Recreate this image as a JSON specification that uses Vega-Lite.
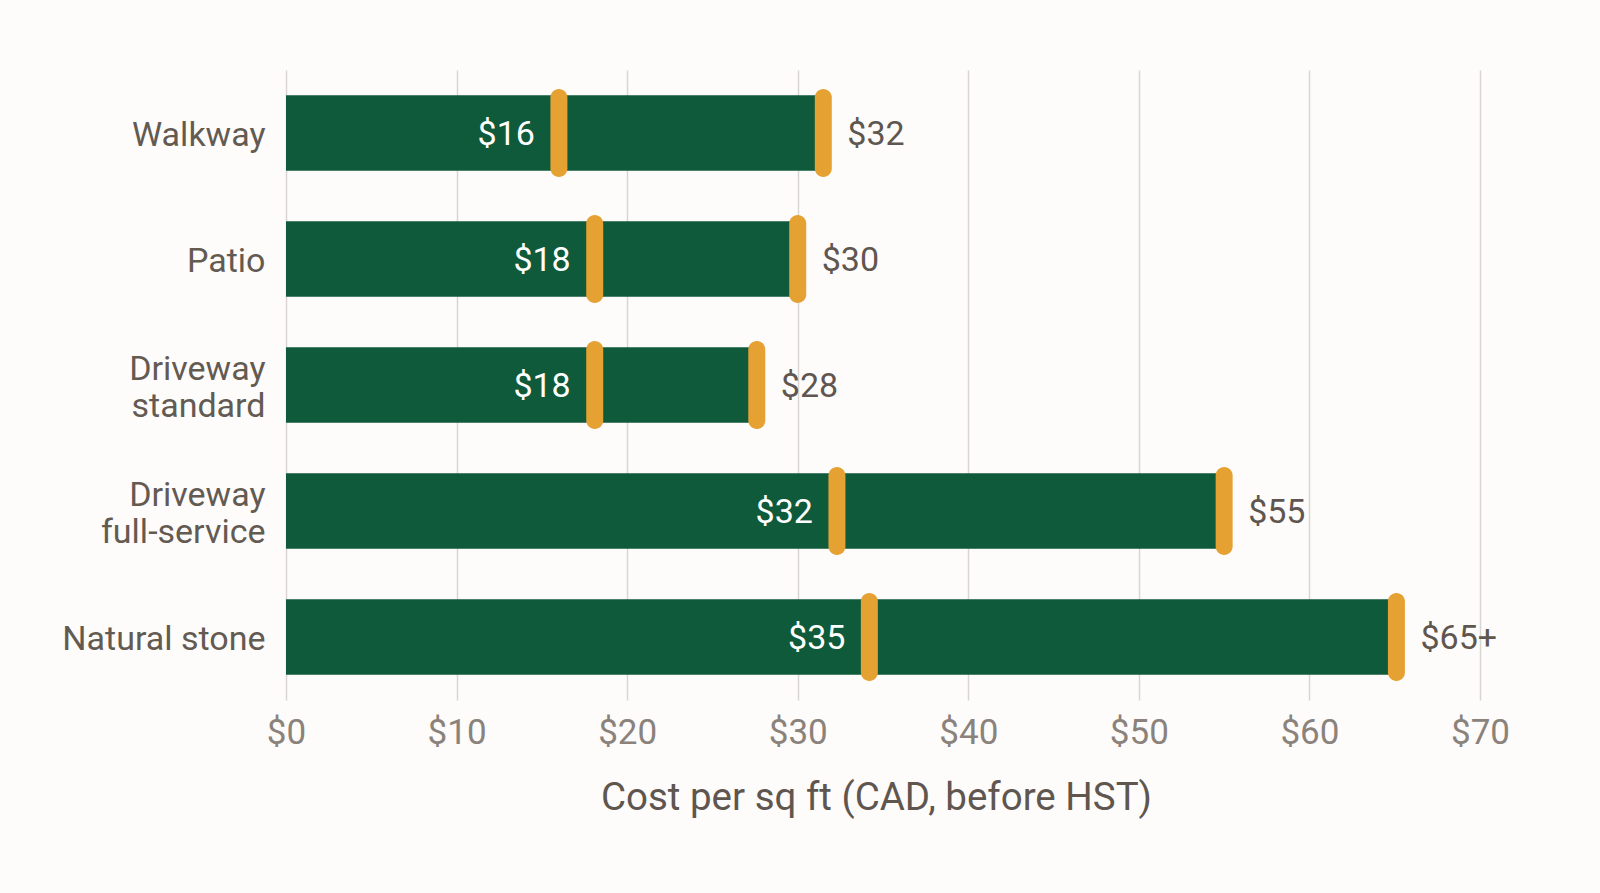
{
  "$schema": "https://vega.github.io/schema/vega-lite/v6.json",
  "width": 1194,
  "height": 630,
  "autosize": {"type": "none"},
  "padding": {"left": 286, "top": 70, "right": 120, "bottom": 193},
  "background": "#fdfcfa",
  "data": {
    "values": [
      {"cat": "Walkway", "low": 16.0, "high": 31.5, "lowLabel": "$16", "highLabel": "$32"},
      {"cat": "Patio", "low": 18.1, "high": 30.0, "lowLabel": "$18", "highLabel": "$30"},
      {"cat": "Driveway|standard", "low": 18.1, "high": 27.6, "lowLabel": "$18", "highLabel": "$28"},
      {"cat": "Driveway|full-service", "low": 32.3, "high": 55.0, "lowLabel": "$32", "highLabel": "$55"},
      {"cat": "Natural stone", "low": 34.2, "high": 65.1, "lowLabel": "$35", "highLabel": "$65+"}
    ]
  },
  "encoding": {
    "y": {
      "field": "cat",
      "type": "nominal",
      "sort": null,
      "scale": {"paddingInner": 0.4, "paddingOuter": 0.2},
      "axis": {
        "title": null,
        "domain": false,
        "ticks": false,
        "grid": false,
        "labelExpr": "split(datum.label, '|')",
        "labelFontSize": 34,
        "labelLineHeight": 37,
        "labelColor": "#635a52",
        "labelPadding": 21,
        "labelLimit": 400,
        "labelOffset": {"condition": {"test": "indexof(datum.value, '|') >= 0", "value": -15}, "value": 3}
      }
    }
  },
  "layer": [
    {
      "mark": {"type": "bar", "color": "#0e5a3b"},
      "encoding": {
        "x": {
          "field": "high",
          "type": "quantitative",
          "scale": {"domain": [0, 70], "nice": false, "zero": true},
          "axis": {
            "title": "Cost per sq ft (CAD, before HST)",
            "values": [0, 10, 20, 30, 40, 50, 60, 70],
            "labelExpr": "'$' + datum.value",
            "grid": true,
            "gridColor": "#d9d6d1",
            "gridWidth": 1.5,
            "ticks": false,
            "domain": false,
            "labelFlush": false,
            "labelFontSize": 35,
            "labelColor": "#8a827b",
            "labelPadding": 15,
            "titleFontSize": 38.5,
            "titleColor": "#5f5650",
            "titleFontWeight": "normal",
            "titlePadding": 29,
            "titleX": 590
          }
        }
      }
    },
    {
      "mark": {"type": "tick", "orient": "vertical", "thickness": 17, "size": 88, "cornerRadius": 8.5, "color": "#e6a133", "opacity": 1},
      "encoding": {"x": {"field": "low", "type": "quantitative"}}
    },
    {
      "mark": {"type": "tick", "orient": "vertical", "thickness": 17, "size": 88, "cornerRadius": 8.5, "color": "#e6a133", "opacity": 1},
      "encoding": {"x": {"field": "high", "type": "quantitative"}}
    },
    {
      "mark": {"type": "text", "align": "right", "baseline": "middle", "dx": -24, "dy": 2, "fontSize": 34, "color": "#ffffff"},
      "encoding": {"x": {"field": "low", "type": "quantitative"}, "text": {"field": "lowLabel"}}
    },
    {
      "mark": {"type": "text", "align": "left", "baseline": "middle", "dx": 24, "dy": 2, "fontSize": 34, "color": "#5f5650"},
      "encoding": {"x": {"field": "high", "type": "quantitative"}, "text": {"field": "highLabel"}}
    }
  ],
  "config": {"view": {"stroke": null}, "font": "Roboto"}
}
